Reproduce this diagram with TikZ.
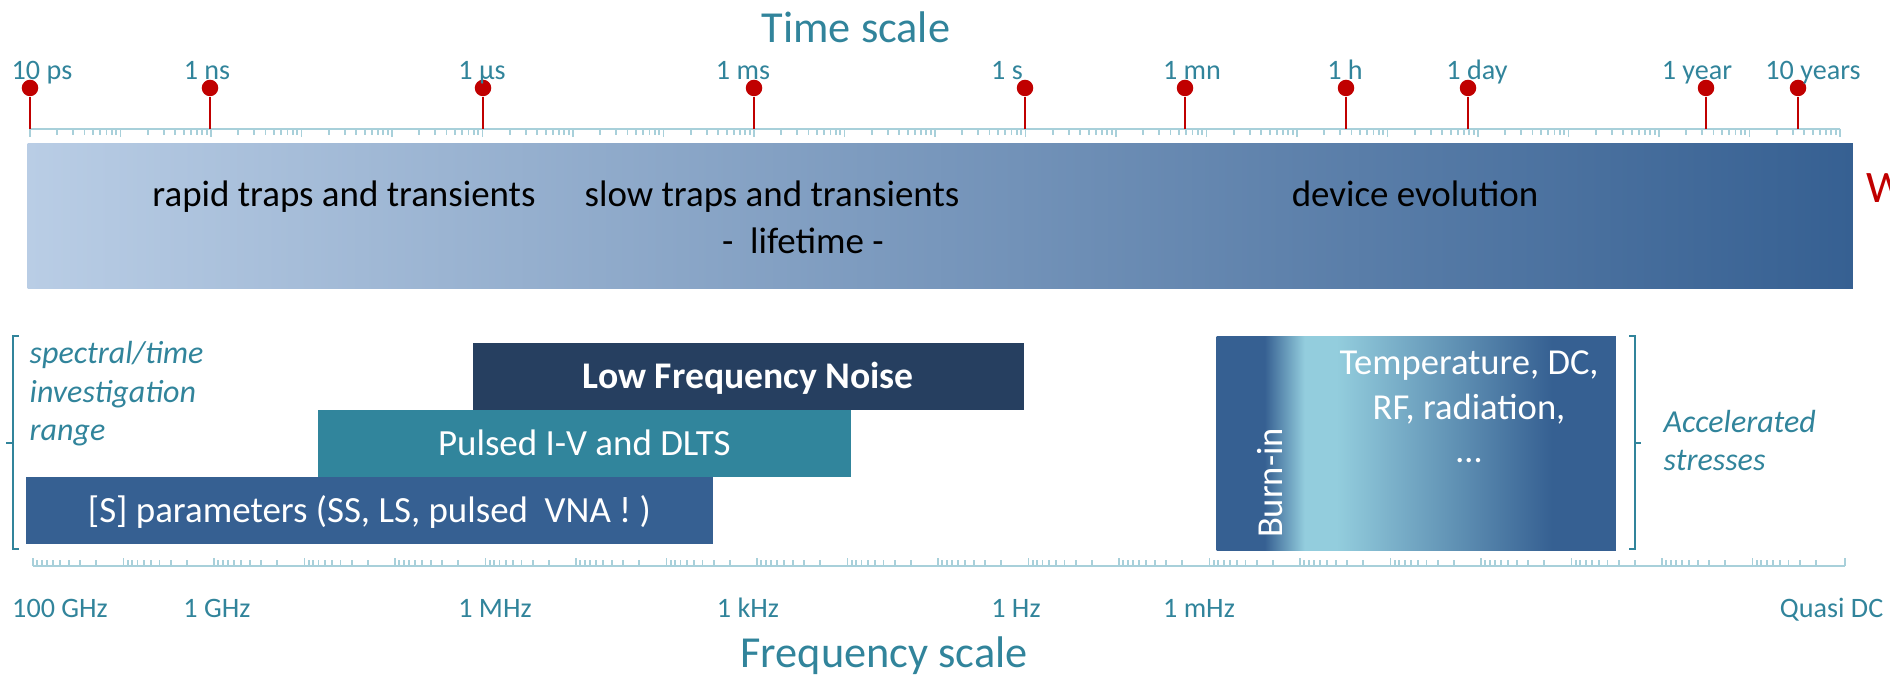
\documentclass[tikz,border=0pt]{standalone}
\usepackage{fontspec}
\setmainfont{Carlito}
\usetikzlibrary{positioning}

\definecolor{scaleteal}{HTML}{31849B}
\definecolor{rulerblue}{HTML}{A8D0DA}
\definecolor{markred}{HTML}{C00000}
\definecolor{barlight}{HTML}{B9CDE5}
\definecolor{bardark}{HTML}{366092}
\definecolor{pulseteal}{HTML}{31859C}
\definecolor{noisenavy}{HTML}{263F60}
\definecolor{stresslight}{HTML}{93CDDD}

% 25bp..75bp of the shading covers the box
\pgfdeclarehorizontalshading{burn in}{100bp}{%
    color(0bp)=(bardark); color(31bp)=(bardark);
    color(36bp)=(stresslight); color(40bp)=(stresslight);
    color(67bp)=(bardark); color(100bp)=(bardark)}

\tikzset{
    scale chart/.style = {x=0.01cm, y=-0.01cm},
    title/.style       = {text=scaleteal, inner sep=0pt, anchor=base,
                          font=\fontsize{12.6}{15}\selectfont},
    tick label/.style  = {text=scaleteal, inner sep=0pt, anchor=base,
                          font=\fontsize{8}{10}\selectfont},
    ruler/.style       = {draw=rulerblue, line width=0.75pt},
    ruler tick/.style  = {draw=rulerblue, line width=0.55pt},
    marker/.style      = {circle, fill=markred, inner sep=0pt,
                          minimum size=1.65mm},
    stem/.style        = {draw=markred, line width=0.6pt},
    evolution bar/.style = {left color=barlight, right color=bardark,
                          minimum width=18.24cm, minimum height=1.45cm,
                          inner sep=0pt, anchor=north west},
    bar text/.style    = {inner sep=0pt, anchor=base,
                          font=\fontsize{10.5}{12.8}\selectfont},
    block/.style       = {text=white, inner sep=0pt, anchor=north west,
                          minimum height=0.67cm, text height=0.68em,
                          text depth=0pt,
                          font=\fontsize{10.5}{12.8}\selectfont},
    range label/.style = {text=scaleteal, inner sep=0pt, align=left,
                          anchor=base west,
                          font=\fontsize{9.1}{11}\selectfont\itshape},
    bracket/.style     = {draw=scaleteal, line width=0.6pt},
    stress text/.style = {text=white, inner sep=0pt, anchor=base,
                          font=\fontsize{10.4}{12.8}\selectfont}
}

\begin{document}
\begin{tikzpicture}[scale chart]
\useasboundingbox (0,0) rectangle (1890,677);

% ================= Time scale =================
\node[title] (time title) at (856,43) {Time scale};

\coordinate (time axis) at (30,129);
\draw[ruler] (time axis) -- (1840,129);
\foreach \d in {0,...,19} {
    \draw[ruler tick] ({30+90.5*\d},129) -- ++(0,8);
    \foreach \k in {2,...,9}
        \draw[ruler tick] ({30+90.5*(\d+log10(\k))},129) -- ++(0,6);
}
\draw[ruler tick] (1840,129) -- ++(0,8);

\foreach \mx/\lx/\txt [count=\i] in {30/42/10 ps, 210/207/1 ns,
        483/482/1 µs, 754/743/1 ms, 1025/1007/1 s, 1185/1192/1 mn,
        1346/1345/1 h, 1468/1477/1 day, 1706/1697/1 year,
        1798/1813/10 years} {
    \node[marker] (mark\i) at (\mx,88) {};
    \node[tick label] (time label\i) at (\lx,80) {\txt};
    \draw[stem] (mark\i) -- (mark\i |- time axis);
}

% ================= Lifetime bar =================
\node[evolution bar] (lifetime bar) at (27,143) {};
\node[bar text] (rapid traps) at (344,207) {rapid traps and transients};
\node[bar text] (slow traps) at (772,207) {slow traps and transients};
\node[bar text] (lifetime) at (803,254) {-\ \ lifetime -};
\node[bar text] (device evolution) at (1415,207) {device evolution};
\node[text=markred, inner sep=0pt, anchor=base west,
      font=\fontsize{12.8}{15}\selectfont] (wear) at (1866,203) {W};

% ================= Characterisation techniques =================
\node[block, fill=noisenavy, minimum width=5.51cm,
      font=\fontsize{10.7}{12.8}\selectfont\bfseries]
      (noise) at (472,342) {Low Frequency Noise};
\node[block, fill=pulseteal, minimum width=5.33cm]
      (pulsed) at (317,409) {Pulsed I-V and DLTS};
\node[block, fill=bardark, minimum width=6.87cm]
      (sparam) at (25,476) {[S] parameters (SS, LS, pulsed\ \ VNA ! )};

\draw[bracket] (19,336) -- (13,336) -- (13,549) -- (19,549);
\draw[bracket] (13,443) -- (6,443);
\node[range label] (investigation) at (29,441)
      {spectral/time\\investigation\\range};

% ================= Accelerated stresses =================
\node[shading=burn in, inner sep=0pt, anchor=north west,
      minimum width=3.99cm, minimum height=2.14cm] (stress box) at (1216,336) {};
\node[stress text, rotate=90] (burn in) at (1282,483) {Burn-in};
\node[stress text] (stress line1) at (1469,375) {Temperature, DC,};
\node[stress text] (stress line2) at (1469,420) {RF, radiation,};
\node[stress text] (stress line3) at (1469,463) {…};

\draw[bracket] (1629,336) -- (1635,336) -- (1635,549) -- (1629,549);
\draw[bracket] (1635,443) -- (1641,443);
\node[range label] (accelerated) at (1663,471) {Accelerated\\stresses};

% ================= Frequency scale =================
\coordinate (freq axis) at (33,566);
\draw[ruler] (freq axis) -- (1845,566);
\foreach \d in {0,...,19} {
    \draw[ruler tick] ({33+90.5*\d},566) -- ++(0,-8);
    \foreach \k in {2,...,9}
        \draw[ruler tick] ({33+90.5*(\d+1-log10(\k))},566) -- ++(0,-6);
}
\draw[ruler tick] (1845,566) -- ++(0,-8);

\foreach \lx/\txt [count=\i] in {60/100 GHz, 217/1 GHz, 495/1 MHz,
        748/1 kHz, 1016/1 Hz, 1199/1 mHz} {
    \node[tick label] (freq label\i) at (\lx,618) {\txt};
}
\node[tick label, anchor=base east] (quasi dc) at (1884,618) {Quasi DC};

\node[title] (freq title) at (884,668) {Frequency scale};

\end{tikzpicture}
\end{document}
